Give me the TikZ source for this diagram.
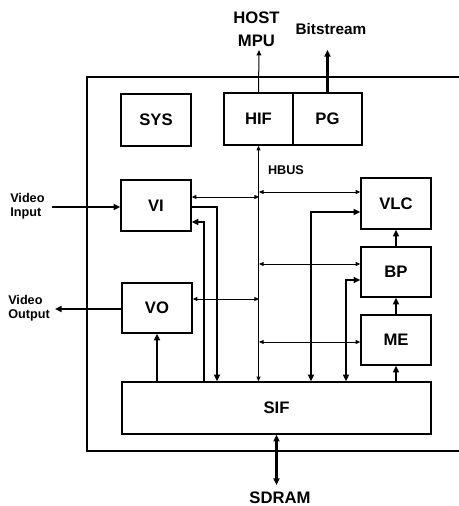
\documentclass[tikz,border=0pt]{standalone}
\usepackage{fontspec}
\setmainfont{Liberation Sans}
\usetikzlibrary{arrows.meta}
\begin{document}
\begin{tikzpicture}[x=0.75pt,y=-0.75pt,
  blk/.style={draw,line width=1.1pt,minimum width=#1*0.75pt,inner sep=0pt,font=\fontsize{12.5}{14}\selectfont\bfseries},
  thin/.style={line width=0.75pt,{Triangle[length=3.5pt,width=3pt]}-{Triangle[length=3.5pt,width=3pt]}},
  thk/.style={line width=1.9pt,-{Triangle[length=5pt,width=4.5pt]}},
  lbl/.style={inner sep=0pt,font=\fontsize{9.5}{10.5}\selectfont\bfseries},
  big/.style={inner sep=0pt,font=\fontsize{12.5}{17}\selectfont\bfseries}]
\useasboundingbox (0,0) rectangle (459,506);
% outer chip outline (right side cut off)
\draw[line width=1.1pt] (459,77) -- (87,77) -- (87,451) -- (459,451);
% blocks
\node[blk=70,minimum height=39pt] (SYS) at (156,120) {SYS};
\node[blk=69,minimum height=39pt] (HIF) at (258.5,119) {HIF};
\node[blk=69,minimum height=39pt] (PG) at (327.5,119) {PG};
\node[blk=70,minimum height=38.25pt] (VI) at (156,205.5) {VI};
\node[blk=70,minimum height=37.5pt] (VO) at (157,308) {VO};
\node[blk=70,minimum height=38.25pt] (VLC) at (396,203.5) {VLC};
\node[blk=70,minimum height=37.5pt] (BP) at (396,272) {BP};
\node[blk=70,minimum height=37.5pt] (ME) at (396,340) {ME};
\node[blk=309,minimum height=39pt] (SIF) at (276.5,408) {SIF};
% labels
\node[big,align=center] (host) at (256.5,29) {HOST\\MPU};
\node[inner sep=0pt,font=\fontsize{11.5}{13}\selectfont\bfseries] (bits) at (331,29.5) {Bitstream};
\node[lbl] (hbus) at (286,170.5) {HBUS};
\node[lbl,align=left,anchor=west] (vin) at (10,206) {Video\\Input};
\node[lbl,align=left,anchor=west] (vout) at (8,308) {Video\\Output};
\node[big] (sdram) at (280,497.5) {SDRAM};
% coordinates
\coordinate (hostend) at (259,50);
\coordinate (bitsend) at (327.5,50);
\coordinate (vinend) at (52,207);
\coordinate (voutend) at (55,309);
\coordinate (sdend) at (276.5,485);
\coordinate (bVI) at (259,197);
\coordinate (bVLC) at (259,192);
\coordinate (bBP) at (259,264);
\coordinate (bVO) at (259,299);
\coordinate (bME) at (259,342);
% external connections
\draw[line width=0.75pt,-{Triangle[length=4pt,width=3.5pt]}] (HIF.north) -- (hostend);
\draw[thk] (PG.north) -- (bitsend);
\draw[thk] (vinend) -- (vinend -| VI.west);
\draw[thk] (VO.west |- voutend) -- (voutend);
\draw[thk,{Triangle[length=5pt,width=4.5pt]}-{Triangle[length=5pt,width=4.5pt]}] (SIF.south) -- (sdend);
% HBUS
\draw[thin] (HIF.south) -- (HIF.south |- SIF.north);
\draw[thin] (VI.east |- bVI) -- (bVI);
\draw[thin] (bVLC) -- (bVLC -| VLC.west);
\draw[thin] (bBP) -- (bBP -| BP.west);
\draw[thin] (VO.east |- bVO) -- (bVO);
\draw[thin] (bME) -- (bME -| ME.west);
% data paths
\draw[thk] (VI.east |- 0,207) -| (217,0 |- SIF.north);
\draw[thk] (204,0 |- SIF.north) |- (VI.east |- 0,222);
\draw[thk] (VO.south |- SIF.north) -- (VO.south);
\draw[thk,{Triangle[length=5pt,width=4.5pt]}-{Triangle[length=5pt,width=4.5pt]}] (VLC.west |- 0,212) -| (311,0 |- SIF.north);
\draw[thk,{Triangle[length=5pt,width=4.5pt]}-{Triangle[length=5pt,width=4.5pt]}] (BP.west |- 0,280) -| (346,0 |- SIF.north);
\draw[thk] (ME.south |- SIF.north) -- (ME.south);
\draw[thk] (ME.north) -- (BP.south);
\draw[thk] (BP.north) -- (VLC.south);
\end{tikzpicture}
\end{document}
